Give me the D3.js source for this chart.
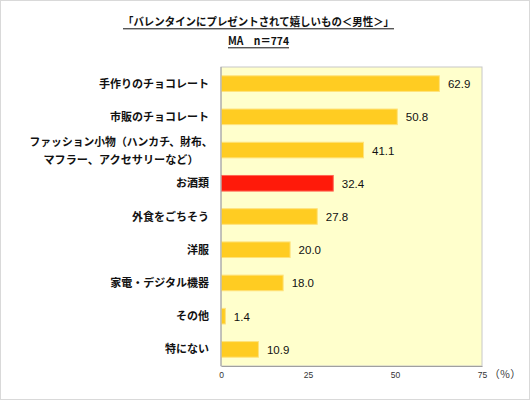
<!DOCTYPE html>
<html><head><meta charset="utf-8">
<script src="https://cdn.jsdelivr.net/npm/d3@7"></script>
<style>
html,body{margin:0;padding:0;background:#fff;}
svg{display:block;}
</style></head>
<body>
<script>
const categories = [
  ["手作りのチョコレート"],
  ["市販のチョコレート"],
  ["ファッション小物（ハンカチ、財布、","マフラー、アクセサリーなど）"],
  ["お酒類"],
  ["外食をごちそう"],
  ["洋服"],
  ["家電・デジタル機器"],
  ["その他"],
  ["特にない"]
];
const values = [62.9, 50.8, 41.1, 32.4, 27.8, 20.0, 18.0, 1.4, 10.9];
const highlight = [false, false, false, true, false, false, false, false, false];
const tickValues = [0, 25, 50, 75];
const title = "「バレンタインにプレゼントされて嬉しいもの＜男性＞」";
const subtitle = "MA　n＝774";
const unit = "（％）";

const W = 530, H = 400;
const jp = "'Noto Sans CJK JP', 'Noto Sans', sans-serif";
const svg = d3.select("body").append("svg").attr("width", W).attr("height", H);

svg.append("rect").attr("x",0.5).attr("y",0.5).attr("width",W-1).attr("height",H-1)
  .attr("fill","#fff").attr("stroke","#d9d9d9");

const plot = {x0: 221, x1: 482, y0: 67, y1: 366};
const x = d3.scaleLinear().domain([0, 75]).range([plot.x0, plot.x1]);
const y = d3.scaleBand().domain(d3.range(categories.length)).range([plot.y0, plot.y1]).paddingInner(0.5).paddingOuter(0.25);

svg.append("rect").attr("x",plot.x0).attr("y",plot.y0).attr("width",plot.x1-plot.x0).attr("height",plot.y1-plot.y0)
  .attr("fill","#FFFFCC").attr("stroke","#c8c8c8");

svg.selectAll("rect.bar").data(values).enter().append("rect").attr("class","bar")
  .attr("x", x(0)+0.5).attr("y",(d,i)=>y(i)+0.5)
  .attr("width",d=>x(d)-x(0)-1).attr("height",y.bandwidth()-1)
  .attr("fill",(d,i)=>highlight[i]?"#FF1A0A":"#FFCC22")
  .attr("stroke",(d,i)=>highlight[i]?"#FF6655":"#FFE27A").attr("stroke-width",1);

svg.append("line").attr("x1",plot.x0).attr("x2",plot.x0).attr("y1",plot.y0).attr("y2",plot.y1).attr("stroke","#a0a0a0");
const xAxis = d3.axisBottom(x).tickValues(tickValues).tickSize(0).tickPadding(6).tickFormat(d3.format("d"));
const gx = svg.append("g").attr("transform",`translate(0,${plot.y1})`).call(xAxis);
gx.select(".domain").attr("stroke","#a0a0a0");
gx.selectAll("text").attr("font-family","'Liberation Sans', Arial, sans-serif").attr("font-size",8.5).attr("fill","#333");

svg.append("text").attr("x",505).attr("y",378).attr("text-anchor","middle")
  .attr("font-family",jp).attr("font-size",10.5).attr("fill","#333").text(unit);

svg.selectAll("text.val").data(values).enter().append("text").attr("class","val")
  .attr("x",d=>x(d)+8).attr("y",(d,i)=>y(i)+y.bandwidth()/2+4.5)
  .attr("font-family","'Liberation Sans', Arial, sans-serif").attr("font-size",11.5).attr("fill","#111")
  .text(d=>d.toFixed(1));

categories.forEach((lines,i)=>{
  const cy = y(i)+y.bandwidth()/2;
  const n = lines.length;
  if (n === 1) {
    svg.append("text").attr("x",209).attr("y",cy+4)
      .attr("text-anchor","end").attr("font-family",jp).attr("font-size",11).attr("font-weight","bold")
      .attr("fill","#111").text(lines[0]);
  } else {
    const lens = [183, 155];
    lines.forEach((ln,j)=>{
      svg.append("text").attr("x",121).attr("y",cy+(j-(n-1)/2)*18+5)
        .attr("text-anchor","middle").attr("font-family",jp).attr("font-size",11).attr("font-weight","bold")
        .attr("textLength",lens[j]).attr("lengthAdjust","spacingAndGlyphs")
        .attr("fill","#111").text(ln);
    });
  }
});

const t1 = svg.append("text").attr("x",258.5).attr("y",26).attr("text-anchor","middle")
  .attr("font-family",jp).attr("font-size",11).attr("font-weight","bold").attr("fill","#111")
  .attr("textLength",271).attr("lengthAdjust","spacingAndGlyphs").text(title);
const t2 = svg.append("text").attr("x",258.5).attr("y",45).attr("text-anchor","middle")
  .attr("font-family",jp).attr("font-size",11).attr("font-weight","bold").attr("fill","#111")
  .attr("textLength",61).attr("lengthAdjust","spacingAndGlyphs").text(subtitle);
[[123,394,28.8],[228,289,47.8]].forEach(([a,b,uy])=>{
  svg.append("line").attr("x1",a).attr("x2",b).attr("y1",uy).attr("y2",uy).attr("stroke","#111").attr("stroke-width",1);
});
</script>
</body></html>
